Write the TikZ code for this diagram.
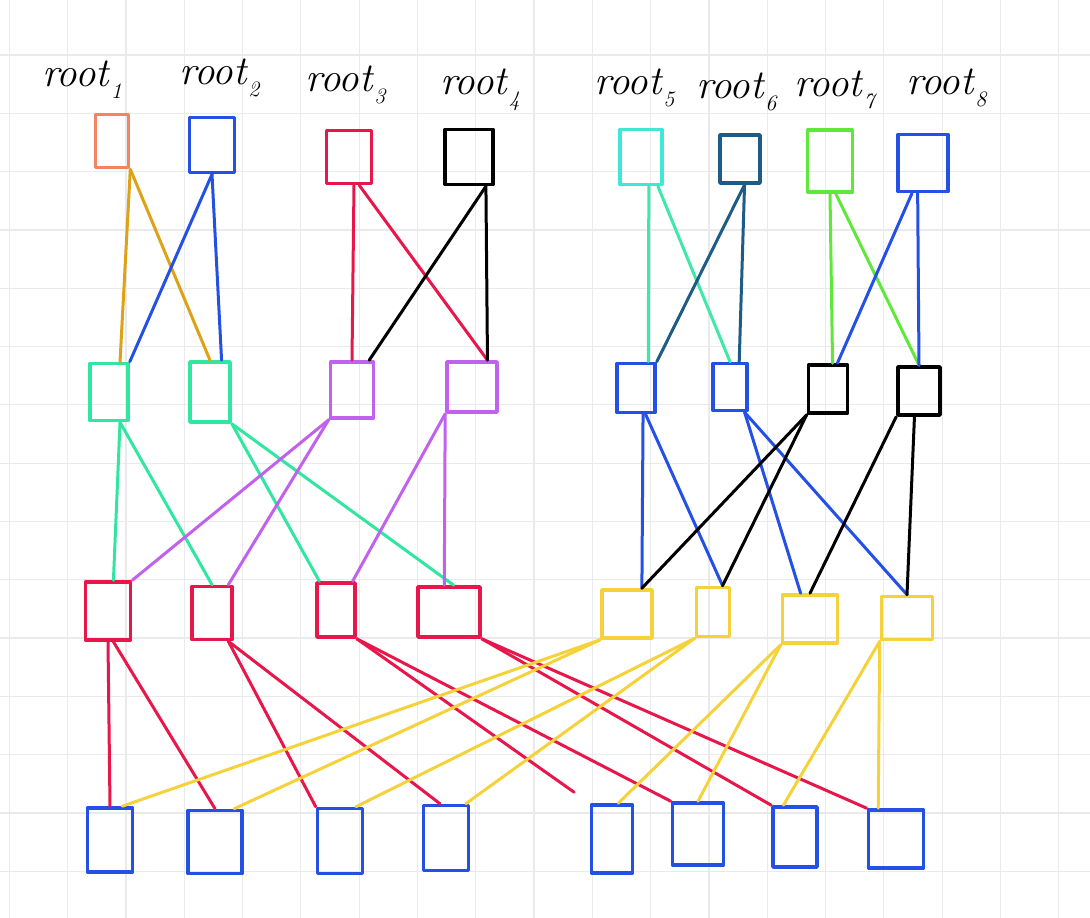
\documentclass[tikz,border=0pt]{standalone}
\usepackage{tikz}
\usetikzlibrary{calc}
\usepackage{xcolor}
\definecolor{gridgray}{RGB}{234,234,234}
\definecolor{salmon}{RGB}{244,132,96}
\definecolor{gold}{RGB}{221,162,22}
\definecolor{inkblue}{RGB}{36,80,230}
\definecolor{inkred}{RGB}{232,23,75}
\definecolor{turq}{RGB}{62,232,212}
\definecolor{aqua}{RGB}{62,232,168}
\definecolor{inkteal}{RGB}{28,92,134}
\definecolor{inklime}{RGB}{94,232,58}
\definecolor{mint}{RGB}{48,230,160}
\definecolor{inkviolet}{RGB}{192,98,238}
\definecolor{inkyellow}{RGB}{246,210,58}
\newcommand{\rootlab}[1]{\textit{root}\raisebox{-0.3em}{\fontsize{22}{22}\selectfont\textit{#1}}}

\begin{document}
\begin{tikzpicture}[x=1pt, y=-1pt,
  every node/.style={font=\fontsize{41}{44}\selectfont},
  box/.style={draw, line width=3.6pt, line join=round, inner sep=0pt},
  link/.style={line width=3pt, line cap=round},
  gridline/.style={gridgray, line width=1.2pt}]
  \useasboundingbox (0,0) rectangle (1090,918);

  % squared paper
  \foreach \k in {0,...,18}
    \draw[gridline] ({9.3+58.3*\k},0) -- ({9.3+58.3*\k},918);
  \foreach \k in {0,...,14}
    \draw[gridline] (0,{55+58.3*\k}) -- (1090,{55+58.3*\k});

  % root labels
  \node (lab1) at (82,80) {\rootlab{1}};
  \node (lab2) at (220,78) {\rootlab{2}};
  \node (lab3) at (346,85) {\rootlab{3}};
  \node (lab4) at (480,90) {\rootlab{4}};
  \node (lab5) at (635,88) {\rootlab{5}};
  \node (lab6) at (737,92) {\rootlab{6}};
  \node (lab7) at (836,90) {\rootlab{7}};
  \node (lab8) at (947,88) {\rootlab{8}};

  % top row (roots)
  \node[box, draw=salmon, minimum width=33pt, minimum height=53pt] (t1) at (112,141) {};
  \node[box, draw=inkblue, minimum width=45pt, minimum height=55pt] (t2) at (212,145) {};
  \node[box, draw=inkred, minimum width=45pt, minimum height=53pt] (t3) at (349,157) {};
  \node[box, draw=black, minimum width=48pt, minimum height=55pt] (t4) at (469,157) {};
  \node[box, draw=turq, minimum width=42pt, minimum height=55pt] (t5) at (641,157) {};
  \node[box, draw=inkteal, minimum width=40pt, minimum height=48pt] (t6) at (740,159) {};
  \node[box, draw=inklime, minimum width=45pt, minimum height=62pt] (t7) at (830,161) {};
  \node[box, draw=inkblue, minimum width=50pt, minimum height=57pt] (t8) at (923,163) {};

  % second row
  \node[box, draw=mint, minimum width=38pt, minimum height=57pt] (m1) at (109,392) {};
  \node[box, draw=mint, minimum width=40pt, minimum height=60pt] (m2) at (210,392) {};
  \node[box, draw=inkviolet, minimum width=43pt, minimum height=56pt] (m3) at (352,390) {};
  \node[box, draw=inkviolet, minimum width=50pt, minimum height=50pt] (m4) at (472,387) {};
  \node[box, draw=inkblue, minimum width=38pt, minimum height=49pt] (m5) at (636,388) {};
  \node[box, draw=inkblue, minimum width=34pt, minimum height=47pt] (m6) at (730,387) {};
  \node[box, draw=black, minimum width=39pt, minimum height=48pt] (m7) at (828,389) {};
  \node[box, draw=black, minimum width=42pt, minimum height=48pt] (m8) at (919,391) {};

  % third row
  \node[box, draw=inkred, minimum width=45pt, minimum height=58pt] (l1) at (108,611) {};
  \node[box, draw=inkred, minimum width=40pt, minimum height=53pt] (l2) at (212,613) {};
  \node[box, draw=inkred, minimum width=38pt, minimum height=54pt] (l3) at (336,610) {};
  \node[box, draw=inkred, minimum width=62pt, minimum height=50pt] (l4) at (449,612) {};
  \node[box, draw=inkyellow, minimum width=50pt, minimum height=48pt] (l5) at (627,614) {};
  \node[box, draw=inkyellow, minimum width=33pt, minimum height=49pt] (l6) at (713,612) {};
  \node[box, draw=inkyellow, minimum width=55pt, minimum height=48pt] (l7) at (810,619) {};
  \node[box, draw=inkyellow, minimum width=51pt, minimum height=43pt] (l8) at (907,618) {};

  % bottom row
  \node[box, draw=inkblue, minimum width=45pt, minimum height=64pt] (b1) at (110,840) {};
  \node[box, draw=inkblue, minimum width=54pt, minimum height=63pt] (b2) at (215,842) {};
  \node[box, draw=inkblue, minimum width=45pt, minimum height=65pt] (b3) at (340,841) {};
  \node[box, draw=inkblue, minimum width=45pt, minimum height=65pt] (b4) at (446,838) {};
  \node[box, draw=inkblue, minimum width=41pt, minimum height=68pt] (b5) at (612,839) {};
  \node[box, draw=inkblue, minimum width=51pt, minimum height=62pt] (b6) at (698,834) {};
  \node[box, draw=inkblue, minimum width=44pt, minimum height=60pt] (b7) at (795,837) {};
  \node[box, draw=inkblue, minimum width=55pt, minimum height=58pt] (b8) at (896,839) {};

  % roots -> second row
  \draw[link, gold] (t1.south east) -- (m1.70);
  \draw[link, gold] (t1.south east) -- (m2.north);
  \draw[link, inkblue] (t2.south) -- (m1.north east);
  \draw[link, inkblue] (t2.south) -- (m2.70);
  \draw[link, inkred] (t3.-80) -- (m3.north);
  \draw[link, inkred] (t3.-70) -- (m4.60);
  \draw[link, black] (t4.-60) -- (m3.60);
  \draw[link, black] (t4.-60) -- (m4.60);
  \draw[link, aqua] (t5.-75) -- (m5.65);
  \draw[link, aqua] (t5.-60) -- (m6.north);
  \draw[link, inkteal] (t6.-80) -- (m5.north east);
  \draw[link, inkteal] (t6.-80) -- (m6.70);
  \draw[link, inklime] (t7.south) -- (m7.80);
  \draw[link, inklime] (t7.-80) -- (m8.north);
  \draw[link, inkblue] (t8.-110) -- (m7.70);
  \draw[link, inkblue] (t8.-100) -- (m8.north);

  % second row -> third row
  \draw[link, mint] (m1.-70) -- (l1.80);
  \draw[link, mint] (m1.-70) -- (l2.north);
  \draw[link, mint] (m2.south east) -- (l3.120);
  \draw[link, mint] (m2.south east) -- (l4.80);
  \draw[link, inkviolet] (m3.south west) -- (l1.north east);
  \draw[link, inkviolet] (m3.south west) -- (l2.60);
  \draw[link, inkviolet] (m4.south west) -- (l3.60);
  \draw[link, inkviolet] (m4.south west) -- (l4.100);
  \draw[link, inkblue] (m5.-75) -- (l5.60);
  \draw[link, inkblue] (m5.-70) -- (l6.70);
  \draw[link, inkblue] (m6.-60) -- (l7.110);
  \draw[link, inkblue] (m6.-60) -- (l8.north);
  \draw[link, black] (m7.south west) -- (l5.60);
  \draw[link, black] (m7.south west) -- (l6.70);
  \draw[link, black] (m8.south west) -- (l7.north);
  \draw[link, black] (m8.-100) -- (l8.north);

  % third row -> bottom row
  \draw[link, inkred] (l1.south) -- (b1.north);
  \draw[link, inkred] (l1.-80) -- (b2.north);
  \draw[link, inkred] (l2.-60) -- (b3.north west);
  \draw[link, inkred] (l2.-60) -- (b4.100);
  \draw[link, inkred, shorten >=19pt] (l3.south east) -- (b5.north west);
  \draw[link, inkred] (l3.south east) -- (b6.north west);
  \draw[link, inkred] (l4.south east) -- (b7.north west);
  \draw[link, inkred] (l4.south east) -- (b8.north west);
  \draw[link, inkyellow] (l5.south west) -- (b1.70);
  \draw[link, inkyellow] (l5.south west) -- (b2.60);
  \draw[link, inkyellow] (l6.south west) -- (b3.65);
  \draw[link, inkyellow] (l6.south west) -- (b4.60);
  \draw[link, inkyellow] (l7.south west) -- (b5.80);
  \draw[link, inkyellow] (l7.south west) -- (b6.north);
  \draw[link, inkyellow] (l8.south west) -- (b7.110);
  \draw[link, inkyellow] (l8.south west) -- (b8.120);
\end{tikzpicture}
\end{document}
